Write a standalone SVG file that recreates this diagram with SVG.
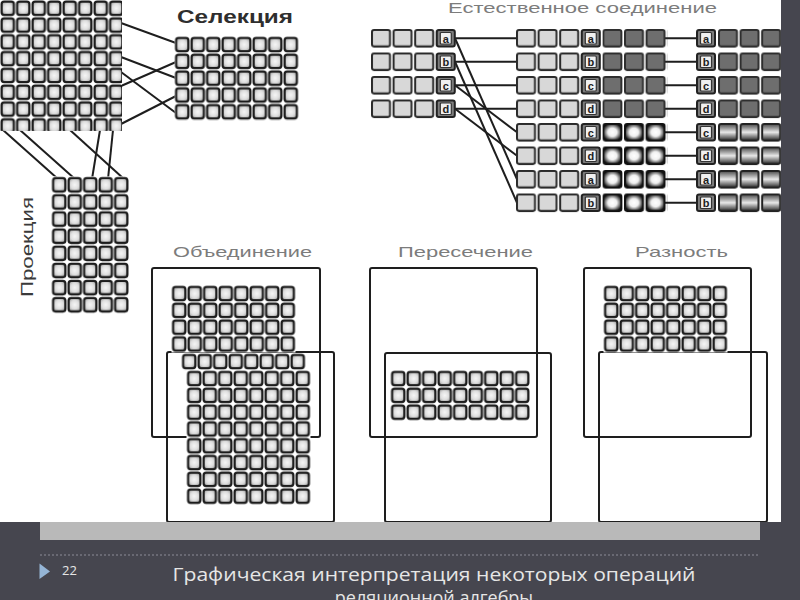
<svg xmlns="http://www.w3.org/2000/svg" xmlns:xlink="http://www.w3.org/1999/xlink" width="800" height="600" viewBox="0 0 800 600">
<style>
.lbl{font-family:"Liberation Sans",Arial,sans-serif;fill:#7c7c7c;font-size:15px}
.ttl{font-family:"Liberation Sans",Arial,sans-serif;fill:#2e2e2e;font-weight:bold}
.ttl2{font-family:"Liberation Sans",Arial,sans-serif;fill:#3a3a3a;font-weight:normal}
.box{fill:none;stroke:#1e1e1e;stroke-width:2}
.ln{stroke:#1e1e1e;stroke-width:2;fill:none}
.key{font-family:"Liberation Sans",Arial,sans-serif;font-size:11px;font-weight:bold;fill:#222;text-anchor:middle}
.foot{font-family:"Open Sans","DejaVu Sans",sans-serif;fill:#e6e6e6}
</style>
<defs>
<radialGradient id="cg" cx="0.5" cy="0.5" r="0.6">
<stop offset="0" stop-color="#f6f6f6"/><stop offset="0.55" stop-color="#dedede"/><stop offset="1" stop-color="#9a9a9a"/>
</radialGradient>
<radialGradient id="glow" cx="0.5" cy="0.5" r="0.55">
<stop offset="0" stop-color="#ffffff"/><stop offset="0.45" stop-color="#f0f0f0"/><stop offset="1" stop-color="#111"/>
</radialGradient>
<linearGradient id="vg" x1="0" y1="0" x2="0" y2="1">
<stop offset="0" stop-color="#4a4a4a"/><stop offset="0.5" stop-color="#e8e8e8"/><stop offset="1" stop-color="#2a2a2a"/>
</linearGradient>
<pattern id="cells" patternUnits="userSpaceOnUse" width="15.5" height="16.8">
<rect width="15.5" height="16.8" fill="#fff"/>
<rect x="1.6" y="1.7" width="12.3" height="13.2" rx="2.5" fill="url(#cg)" stroke="#1c1c1c" stroke-width="2.2"/>
</pattern>
<pattern id="jl" patternUnits="userSpaceOnUse" width="21.6" height="23.5">
<rect x="1" y="1" width="18" height="16.5" rx="2" fill="#d8d8d8" stroke="#2a2a2a" stroke-width="2"/>
</pattern>
<pattern id="jd" patternUnits="userSpaceOnUse" width="21.6" height="23.5">
<rect x="1" y="1" width="18" height="16.5" rx="2" fill="#6e6e6e" stroke="#2e2e2e" stroke-width="2"/>
</pattern>
<pattern id="jg" patternUnits="userSpaceOnUse" width="21.6" height="23.5">
<rect x="1" y="1" width="18" height="16.5" rx="2" fill="url(#glow)" stroke="#111" stroke-width="2"/>
</pattern>
<pattern id="jv" patternUnits="userSpaceOnUse" width="21.6" height="23.5">
<rect x="1" y="1" width="18" height="16.5" rx="2" fill="url(#vg)" stroke="#222" stroke-width="2"/>
</pattern>
<g id="kb">
<rect x="0" y="0" width="18" height="16.5" rx="2" fill="#7d7d7d" stroke="#222" stroke-width="2"/>
<rect x="3.5" y="2.5" width="11" height="11.5" rx="1" fill="#f0f0f0" stroke="#333" stroke-width="1.2"/>
</g>
</defs>

<rect width="800" height="600" fill="#46464f"/>
<rect x="0" y="0" width="781" height="522" fill="#fff"/>

<g id="connectors">
<line class="ln" x1="121" y1="23" x2="176" y2="43"/>
<line class="ln" x1="121" y1="57" x2="176" y2="78"/>
<line class="ln" x1="121" y1="86" x2="176" y2="62"/>
<line class="ln" x1="121" y1="72" x2="176" y2="113"/>
<line class="ln" x1="121" y1="124" x2="176" y2="96"/>
<line class="ln" x1="3" y1="130" x2="58" y2="179"/>
<line class="ln" x1="20" y1="130" x2="75" y2="179"/>
<line class="ln" x1="70" y1="130" x2="124" y2="179"/>
<line class="ln" x1="100" y1="130" x2="92" y2="179"/>
<line class="ln" x1="113" y1="130" x2="108" y2="179"/>
<line class="ln" x1="455" y1="38.25" x2="517" y2="38.25"/>
<line class="ln" x1="455" y1="61.75" x2="517" y2="61.75"/>
<line class="ln" x1="455" y1="85.25" x2="517" y2="85.25"/>
<line class="ln" x1="455" y1="108.75" x2="517" y2="108.75"/>
<line class="ln" x1="455" y1="38.25" x2="517" y2="179.25"/>
<line class="ln" x1="455" y1="61.75" x2="517" y2="202.75"/>
<line class="ln" x1="455" y1="85.25" x2="517" y2="132.25"/>
<line class="ln" x1="455" y1="108.75" x2="517" y2="155.75"/>
<line class="ln" x1="663" y1="38.25" x2="698" y2="38.25"/>
<line class="ln" x1="663" y1="61.75" x2="698" y2="61.75"/>
<line class="ln" x1="663" y1="85.25" x2="698" y2="85.25"/>
<line class="ln" x1="663" y1="108.75" x2="698" y2="108.75"/>
<line class="ln" x1="663" y1="132.25" x2="698" y2="132.25"/>
<line class="ln" x1="663" y1="155.75" x2="698" y2="155.75"/>
<line class="ln" x1="663" y1="179.25" x2="698" y2="179.25"/>
<line class="ln" x1="663" y1="202.75" x2="698" y2="202.75"/>
</g>

<g id="source-relation">
<rect x="-2" y="-3.5" width="124" height="134.4" fill="url(#cells)"/>
</g>

<g id="selection">
<text class="ttl" x="177" y="23" font-size="18" textLength="116" lengthAdjust="spacingAndGlyphs">Селекция</text>
<rect transform="translate(174.5,36.3)" width="124" height="84" fill="url(#cells)"/>
</g>

<g id="projection">
<text class="ttl2" transform="translate(33,297) rotate(-90)" font-size="17" textLength="100" lengthAdjust="spacingAndGlyphs">Проекция</text>
<rect transform="translate(51.5,176.3) scale(1,1.02)" width="77.5" height="134.4" fill="url(#cells)"/>
</g>

<g id="natural-join">
<text class="lbl" x="448" y="13" font-size="14" textLength="269" lengthAdjust="spacingAndGlyphs">Естественное соединение</text>
<rect transform="translate(371,29)" width="64.8" height="94" fill="url(#jl)"/>
<rect transform="translate(516,29)" width="64.8" height="188" fill="url(#jl)"/>
<rect transform="translate(602.4,29)" width="64.8" height="94" fill="url(#jd)"/>
<rect transform="translate(602.4,123)" width="64.8" height="94" fill="url(#jg)"/>
<rect transform="translate(718,29)" width="64.8" height="94" fill="url(#jd)"/>
<rect transform="translate(718,123)" width="64.8" height="94" fill="url(#jv)"/>
<use xlink:href="#kb" x="436.8" y="30"/><text class="key" x="445.8" y="42.5">a</text>
<use xlink:href="#kb" x="436.8" y="53.5"/><text class="key" x="445.8" y="66">b</text>
<use xlink:href="#kb" x="436.8" y="77"/><text class="key" x="445.8" y="89.5">c</text>
<use xlink:href="#kb" x="436.8" y="100.5"/><text class="key" x="445.8" y="113">d</text>
<use xlink:href="#kb" x="581.8" y="30"/><text class="key" x="590.8" y="42.5">a</text>
<use xlink:href="#kb" x="581.8" y="53.5"/><text class="key" x="590.8" y="66">b</text>
<use xlink:href="#kb" x="581.8" y="77"/><text class="key" x="590.8" y="89.5">c</text>
<use xlink:href="#kb" x="581.8" y="100.5"/><text class="key" x="590.8" y="113">d</text>
<use xlink:href="#kb" x="581.8" y="124"/><text class="key" x="590.8" y="136.5">c</text>
<use xlink:href="#kb" x="581.8" y="147.5"/><text class="key" x="590.8" y="160">d</text>
<use xlink:href="#kb" x="581.8" y="171"/><text class="key" x="590.8" y="183.5">a</text>
<use xlink:href="#kb" x="581.8" y="194.5"/><text class="key" x="590.8" y="207">b</text>
<use xlink:href="#kb" x="697" y="30"/><text class="key" x="706" y="42.5">a</text>
<use xlink:href="#kb" x="697" y="53.5"/><text class="key" x="706" y="66">b</text>
<use xlink:href="#kb" x="697" y="77"/><text class="key" x="706" y="89.5">c</text>
<use xlink:href="#kb" x="697" y="100.5"/><text class="key" x="706" y="113">d</text>
<use xlink:href="#kb" x="697" y="124"/><text class="key" x="706" y="136.5">c</text>
<use xlink:href="#kb" x="697" y="147.5"/><text class="key" x="706" y="160">d</text>
<use xlink:href="#kb" x="697" y="171"/><text class="key" x="706" y="183.5">a</text>
<use xlink:href="#kb" x="697" y="194.5"/><text class="key" x="706" y="207">b</text>
</g>

<g id="union">
<text class="lbl" x="173" y="257" textLength="139" lengthAdjust="spacingAndGlyphs">Объединение</text>
<rect class="box" x="152" y="268" width="168" height="169" rx="2"/>
<rect class="box" x="167" y="352" width="167" height="170" rx="2"/>
<rect transform="translate(171.5,285.3)" width="124" height="67.2" fill="url(#cells)"/>
<rect transform="translate(181.5,353.3)" width="124" height="16.8" fill="url(#cells)"/>
<rect transform="translate(186.5,370.3)" width="124" height="134.4" fill="url(#cells)"/>
</g>

<g id="intersection">
<text class="lbl" x="398" y="257" textLength="135" lengthAdjust="spacingAndGlyphs">Пересечение</text>
<rect class="box" x="370" y="268" width="167" height="169" rx="2"/>
<rect class="box" x="385" y="353" width="166" height="169" rx="2"/>
<rect transform="translate(390.5,370.3)" width="139.5" height="50.4" fill="url(#cells)"/>
</g>

<g id="difference">
<text class="lbl" x="635" y="257" textLength="93" lengthAdjust="spacingAndGlyphs">Разность</text>
<rect class="box" x="584" y="268" width="167" height="169" rx="2"/>
<rect class="box" x="599" y="352" width="168" height="170" rx="2"/>
<rect transform="translate(603.5,285.3)" width="124" height="67.2" fill="url(#cells)"/>
</g>

<g id="frame">
<rect x="781" y="0" width="19" height="522" fill="#46464f"/>
<rect x="0" y="522" width="800" height="78" fill="#46464f"/>
<rect x="40" y="522" width="720" height="18" fill="#b9b9b9"/>
<line x1="40" y1="555" x2="760" y2="555" stroke="#8c8c98" stroke-width="1" stroke-dasharray="2,2"/>
</g>

<g id="footer">
<polygon points="39.5,563.5 50,571.5 39.5,579" fill="#95b5d6"/>
<text class="foot" x="62" y="575" font-size="13">22</text>
<text class="foot" x="434" y="581" font-size="18" text-anchor="middle" textLength="523" lengthAdjust="spacingAndGlyphs">Графическая интерпретация некоторых операций</text>
<text class="foot" x="434" y="604" font-size="18" text-anchor="middle">реляционной алгебры</text>
</g>
</svg>
